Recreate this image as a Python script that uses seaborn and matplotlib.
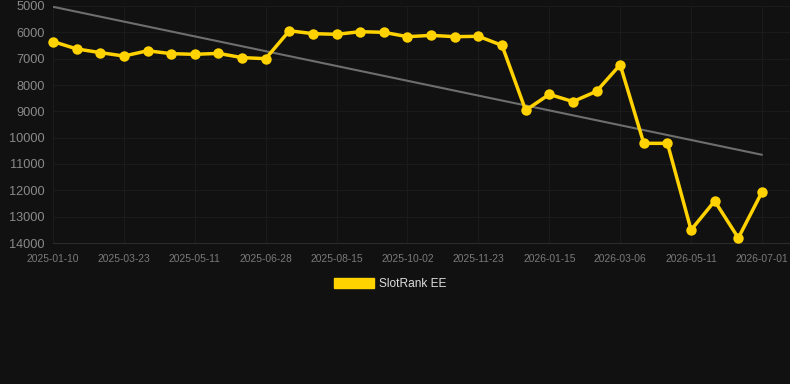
import numpy as np
import pandas as pd
import matplotlib
matplotlib.use('Agg')
import matplotlib.pyplot as plt
import seaborn as sns
from matplotlib.patches import Patch

# rank values, one per point (category axis, label shown every 3rd point)
ranks = [6350, 6630, 6770, 6900, 6700, 6810, 6835, 6800, 6960, 7000,
         5940, 6050, 6075, 5975, 6000, 6165, 6115, 6165, 6150, 6495,
         8960, 8355, 8630, 8240, 7230, 10215, 10215, 13505, 12405, 13810,
         12065]
tick_labels = ['2025-01-10', '2025-03-23', '2025-05-11', '2025-06-28', '2025-08-15',
               '2025-10-02', '2025-11-23', '2026-01-15', '2026-03-06', '2026-05-11',
               '2026-07-01']
# trend line ends (first and last point)
trend_vals = [5030, 10650]

bg = '#111111'
gold = '#FFD200'

sns.set_style('dark')
plt.rcParams['font.family'] = ['Liberation Sans', 'DejaVu Sans']

fig = plt.figure(figsize=(7.9, 3.84), dpi=100, facecolor=bg)
ax = fig.add_axes([53 / 790, 1 - 243 / 384, 1 - 53 / 790, (243 - 6) / 384])
ax.set_facecolor(bg)

df = pd.DataFrame({'idx': np.arange(len(ranks)), 'rank': ranks})
trend = pd.DataFrame({'idx': [0, len(ranks) - 1], 'rank': trend_vals})

sns.lineplot(data=trend, x='idx', y='rank', ax=ax, color='#6e6e6e', linewidth=1.5, zorder=2)
sns.lineplot(data=df, x='idx', y='rank', ax=ax, color=gold, linewidth=2.5,
             marker='o', markersize=7.5, markeredgecolor=gold, markeredgewidth=0,
             zorder=3, clip_on=False)

ax.set_xlim(0, len(ranks) - 1 + 28 / 23.6)
ax.set_ylim(14000, 5000)
ax.set_yticks(np.arange(5000, 14001, 1000))
ax.set_xticks(np.arange(0, len(ranks), 3))
ax.set_xticklabels(tick_labels)
ax.set_xlabel('')
ax.set_ylabel('')

ax.grid(True, color='#1b1b1b', linewidth=0.8)
for s in ['top', 'right', 'left']:
    ax.spines[s].set_visible(False)
ax.spines['bottom'].set_color('#2c2c2c')
ax.spines['bottom'].set_linewidth(0.8)

ax.tick_params(axis='y', colors='#8a8a8a', labelsize=9.2, length=0, pad=6)
ax.tick_params(axis='x', colors='#7a7a7a', labelsize=7.4, length=0, pad=8)

handle = Patch(facecolor=gold, edgecolor=gold, label='SlotRank EE')
fig.legend(handles=[handle], loc='center', bbox_to_anchor=(390 / 790, 1 - 284 / 384),
           frameon=False, fontsize=8.6, labelcolor='#dddddd',
           handlelength=3.35, handleheight=1.0, handletextpad=0.45)

fig.savefig('out.png', dpi=100, facecolor=bg)
